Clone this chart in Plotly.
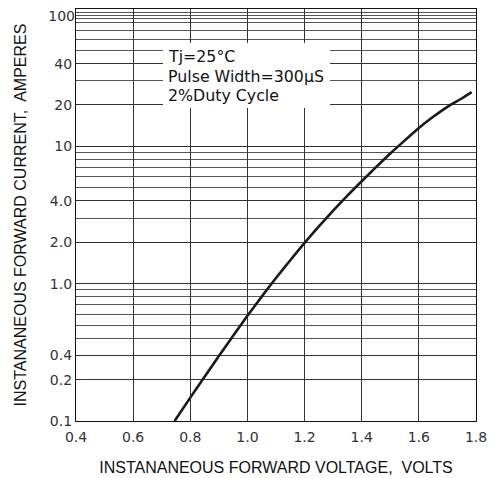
import plotly.graph_objects as go

# Forward characteristic
voltage = [0.745, 0.80, 0.85, 0.90, 0.95, 1.00, 1.05, 1.10, 1.15, 1.20, 1.25, 1.30,
           1.35, 1.40, 1.45, 1.50, 1.55, 1.60, 1.65, 1.70, 1.75, 1.785]
current = [0.100, 0.148, 0.210, 0.297, 0.418, 0.583, 0.805, 1.10, 1.48, 1.98, 2.61, 3.40,
           4.38, 5.57, 7.05, 8.87, 11.0, 13.6, 16.4, 19.4, 22.3, 24.8]

x_ticks = [0.4, 0.6, 0.8, 1.0, 1.2, 1.4, 1.6, 1.8]
x_labels = ["0.4", "0.6", "0.8", "1.0", "1.2", "1.4", "1.6", "1.8"]
y_ticks = [0.1, 0.2, 0.3, 1, 2, 4, 10, 20, 40]
y_labels = ["0.1", "0.2", "0.4", "1.0", "2.0", "4.0", "10", "20", "40"]
y_top_tick = [100]
y_top_label = ["100"]
y_minor = [0.4, 0.5, 0.6, 0.7, 0.8, 0.9, 3, 5, 6, 7, 8, 9,
           30, 50, 60, 70, 80, 85, 90, 95, 100]

legend_lines = ["Tj=25°C", "Pulse Width=300μS", "2%Duty Cycle"]

TITLE_FONT = "Liberation Sans, Arial, sans-serif"
TEXT_FONT = "DejaVu Sans, sans-serif"
OFF = 8  # page body margin
W, H = 497 - OFF, 478 - OFF
L, R, T, B = 68, 21, 1, 57
PW, PH = W - L - R, H - T - B

def px(x_page):
    return (x_page - OFF - L) / PW

def py(y_page):
    return 1 - (y_page - OFF - T) / PH

fig = go.Figure()
fig.add_trace(go.Scatter(x=voltage, y=current, mode="lines",
                         line=dict(color="#1a1a1a", width=2.6, shape="spline", smoothing=0.6),
                         showlegend=False, hoverinfo="skip"))
# empty trace so that the overlay axis carrying the "100" label is drawn
fig.add_trace(go.Scatter(x=[None], y=[None], yaxis="y2", mode="lines",
                         showlegend=False, hoverinfo="skip"))

fig.add_shape(type="rect", xref="paper", yref="paper",
              x0=px(163), x1=px(330), y0=py(108), y1=py(43),
              fillcolor="white", line=dict(width=0), layer="above")

for i, t in enumerate(legend_lines):
    fig.add_annotation(xref="paper", yref="paper", x=px(166), y=py(57 + 19.3 * i),
                       text=t, showarrow=False, xanchor="left", yanchor="middle",
                       font=dict(family=TEXT_FONT, size=15.8, color="#111"))

fig.update_layout(
    width=W, height=H,
    margin=dict(l=L, r=R, t=T, b=B),
    paper_bgcolor="white", plot_bgcolor="white",
    font=dict(family=TEXT_FONT, color="#222"),
    xaxis=dict(range=[0.4, 1.8], tickmode="array", tickvals=x_ticks, ticktext=x_labels,
               showgrid=True, gridcolor="#333", gridwidth=1, zeroline=False,
               showline=True, mirror=True, linecolor="#111", linewidth=1.2,
               ticks="", tickfont=dict(family=TEXT_FONT, size=14, color="#333"),
               ticklabelstandoff=3,
               title=dict(text="INSTANANEOUS FORWARD VOLTAGE,  VOLTS",
                          font=dict(family=TITLE_FONT, size=16, color="#111"), standoff=17),
               automargin=False),
    yaxis=dict(type="log", range=[-1, 2], tickmode="array", tickvals=y_ticks, ticktext=y_labels,
               showgrid=True, gridcolor="#333", gridwidth=1, zeroline=False,
               showline=True, mirror=True, linecolor="#111", linewidth=1.2,
               ticks="", tickfont=dict(family=TEXT_FONT, size=14, color="#333"),
               minor=dict(tickvals=y_minor, showgrid=True, gridcolor="#555", gridwidth=1, ticks=""),
               title=dict(text="INSTANANEOUS FORWARD CURRENT,  AMPERES",
                          font=dict(family=TITLE_FONT, size=16, color="#111"), standoff=19),
               automargin=False),
    yaxis2=dict(type="log", range=[-1, 2.001], overlaying="y", anchor="x", side="left",
                tickmode="array", tickvals=y_top_tick, ticktext=y_top_label,
                showgrid=False, zeroline=False, showline=False, ticks="",
                ticklabelshift=7, ticklabeloverflow="allow",
                tickfont=dict(family=TEXT_FONT, size=14, color="#333"),
                automargin=False),
)

fig.write_html("out.html")
